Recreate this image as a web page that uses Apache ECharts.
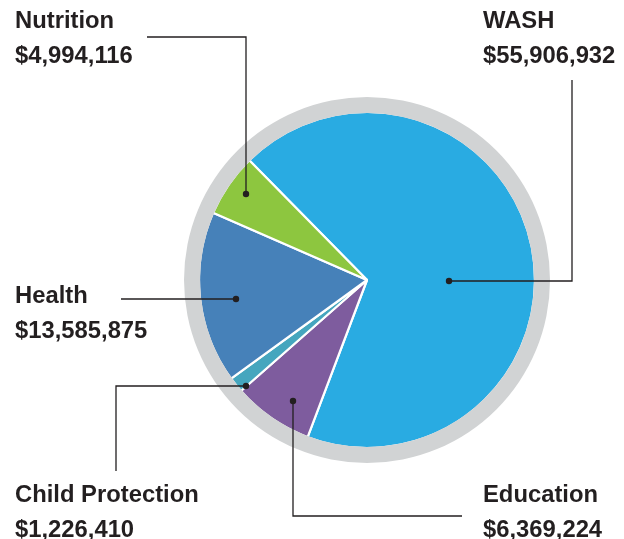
<!DOCTYPE html>
<html>
<head>
<meta charset="utf-8">
<script src="https://cdn.jsdelivr.net/npm/echarts@6/dist/echarts.min.js"></script>
<style>
html,body{margin:0;padding:0;background:#fff;}
#c{width:624px;height:539px;}
</style>
</head>
<body>
<div id="c"></div>
<script>
// ---- data ----
var categories = ['WASH', 'Education', 'Child Protection', 'Health', 'Nutrition'];
var values = [55906932, 6369224, 1226410, 13585875, 4994116];
var colors = ['#29ABE2', '#7E5C9E', '#45A6BE', '#4681B9', '#8DC63F'];

// ---- label layout (annotation positions, px) ----
var labelPos = [
  { x: 483, y: 4,   line: [[449, 281], [572, 281], [572, 80]] },
  { x: 483, y: 478, line: [[293, 401], [293, 516], [462, 516]] },
  { x: 15,  y: 478, line: [[246, 386], [116, 386], [116, 471]] },
  { x: 15,  y: 279, line: [[236, 299], [121, 299]] },
  { x: 15,  y: 4,   line: [[246, 194], [246, 37], [147, 37]] }
];

var CX = 367, CY = 280;
var textColor = '#231F20';

var pieData = categories.map(function (c, i) {
  return { name: c, value: values[i], itemStyle: { color: colors[i] } };
});

var graphics = [];
labelPos.forEach(function (p) {
  graphics.push({
    type: 'polyline',
    z: 100,
    silent: true,
    shape: { points: p.line },
    style: { stroke: textColor, lineWidth: 1.3, fill: null }
  });
  graphics.push({
    type: 'circle',
    z: 101,
    silent: true,
    shape: { cx: p.line[0][0], cy: p.line[0][1], r: 3.2 },
    style: { fill: textColor }
  });
});

var chart = echarts.init(document.getElementById('c'), null, { renderer: 'canvas' });
chart.setOption({
  animation: false,
  backgroundColor: '#ffffff',
  graphic: graphics,
  series: [
    {
      type: 'pie',
      center: [CX, CY],
      radius: [0, 168],
      startAngle: 134.5,
      clockwise: true,
      avoidLabelOverlap: false,
      z: 2,
      itemStyle: { borderColor: '#ffffff', borderWidth: 2.2 },
      emphasis: { disabled: true },
      label: {
        show: true,
        position: 'outside',
        formatter: function (p) {
          return '{n|' + p.name + '}\n{v|$' + p.value.toLocaleString('en-US') + '}';
        },
        rich: {
          n: { fontFamily: 'Liberation Sans, Arial, sans-serif', fontWeight: 'bold', fontSize: 23.8, lineHeight: 35, color: textColor },
          v: { fontFamily: 'Liberation Sans, Arial, sans-serif', fontWeight: 'bold', fontSize: 23.8, lineHeight: 35, color: textColor }
        }
      },
      labelLine: { show: false },
      labelLayout: function (params) {
        var p = labelPos[params.dataIndex];
        return { x: p.x, y: p.y, align: 'left', verticalAlign: 'top' };
      },
      data: pieData
    },
    {
      type: 'pie',
      center: [CX, CY],
      radius: [167, 183],
      silent: true,
      z: 3,
      label: { show: false },
      labelLine: { show: false },
      itemStyle: { color: '#D1D3D4', borderWidth: 0 },
      data: [{ value: 1, name: 'ring' }]
    }
  ]
});
</script>
</body>
</html>
